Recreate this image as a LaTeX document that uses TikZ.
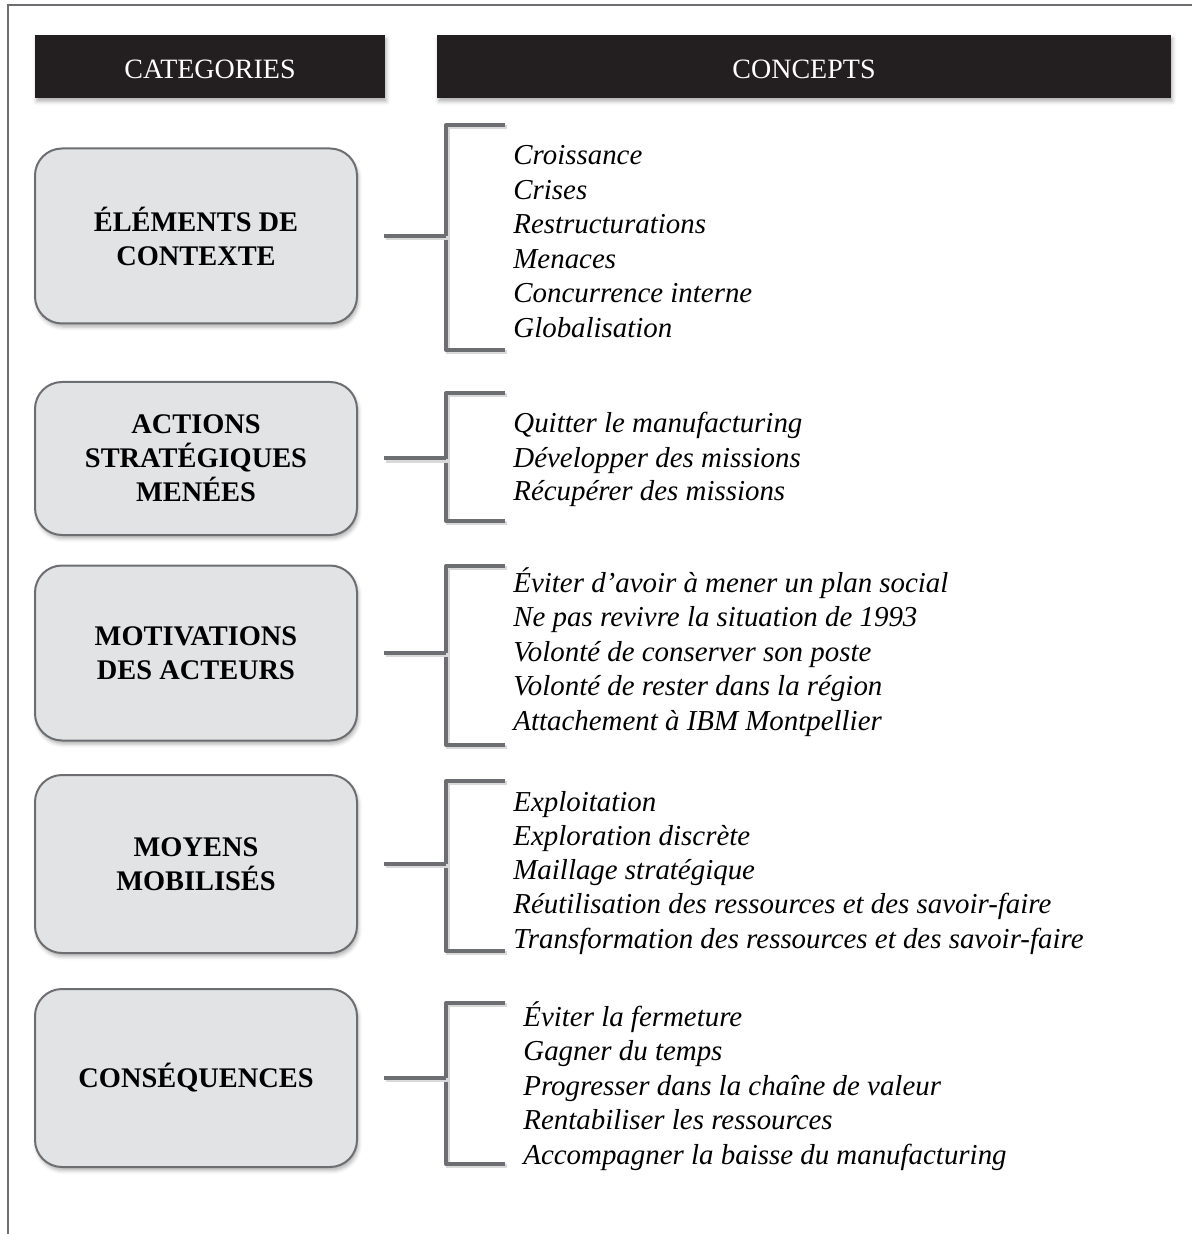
\documentclass[tikz,border=0pt]{standalone}
\usepackage{fontspec}
\setmainfont{Liberation Serif}
\usetikzlibrary{positioning,shadows.blur}

\definecolor{framegray}{HTML}{6D6E71}
\definecolor{boxfill}{HTML}{E2E3E5}
\definecolor{headblack}{HTML}{231F20}

\tikzset{
    header/.style={fill=headblack, text=white, inner sep=0pt, minimum height=31.5pt,
        text height=11.8pt, text depth=0pt, font=\fontsize{14}{17}\selectfont,
        blur shadow={shadow xshift=0.8pt, shadow yshift=-1.8pt, shadow opacity=30}},
    catbox/.style={draw=framegray, line width=1pt, fill=boxfill, rounded corners=13.5pt,
        inner sep=0pt, minimum width=161pt, align=center,
        font=\fontsize{14.2}{17}\selectfont\bfseries,
        blur shadow={shadow xshift=0.8pt, shadow yshift=-1.8pt, shadow opacity=30}},
    brace/.style={draw=framegray, line width=2pt, line join=round,
        preaction={draw=black!15, line width=2pt,
            transform canvas={shift={(0.8pt,-1.2pt)}}}},
    concept/.style={anchor=base west, inner sep=0pt,
        font=\fontsize{14.45}{17}\selectfont\itshape},
}

\begin{document}
\begin{tikzpicture}[x=0.5pt, y=-0.5pt]
    \useasboundingbox (0,0) rectangle (1192,1234);
    \draw[framegray, line width=1.2pt] (1192,5) -- (8,5) -- (8,1234);

    % headers
    \node[header, minimum width=175pt] (hcat) at (210,66.5) {CATEGORIES};
    \node[header, minimum width=367pt] (hcon) at (804,66.5) {CONCEPTS};

    % categories
    \node[catbox, minimum height=87.5pt] (ctx) at (196,236) {ÉLÉMENTS DE\\CONTEXTE};
    \node[catbox, minimum height=76.5pt] (act) at (196,458.5) {ACTIONS\\STRATÉGIQUES\\MENÉES};
    \node[catbox, minimum height=87.5pt] (mot) at (196,653) {MOTIVATIONS\\DES ACTEURS};
    \node[catbox, minimum height=89pt] (moy) at (196,864) {MOYENS\\MOBILISÉS};
    \node[catbox, minimum height=89pt] (csq) at (196,1078) {CONSÉQUENCES};

    % brackets
    \foreach \nm/\ya/\yb in {ctx/125/350, act/393/521, mot/566/745, moy/781/951, csq/1003/1164} {
        \coordinate (\nm-t) at (505,\ya);
        \coordinate (\nm-b) at (505,\yb);
        \coordinate (\nm-k) at (446,\ya);
        \draw[brace] (\nm-t) -- (\nm-k) -- (\nm-k |- \nm-b) -- (\nm-b);
        \draw[brace] ([xshift=13pt]\nm.east) -- (\nm.east -| \nm-k);
    }

    % concepts
    \foreach \txt [count=\i from 0] in {Croissance, Crises, Restructurations, Menaces,
            Concurrence interne, Globalisation}
        \node[concept] (ctx-\i) at (513,{165+34.5*\i}) {\txt};
    \foreach \txt [count=\i from 0] in {Quitter le manufacturing, Développer des missions,
            Récupérer des missions}
        \node[concept] (act-\i) at (513,{433+34*\i}) {\txt};
    \foreach \txt [count=\i from 0] in {Éviter d’avoir à mener un plan social,
            Ne pas revivre la situation de 1993, Volonté de conserver son poste,
            Volonté de rester dans la région, Attachement à IBM Montpellier}
        \node[concept] (mot-\i) at (513,{592+34.5*\i}) {\txt};
    \foreach \txt [count=\i from 0] in {Exploitation, Exploration discrète, Maillage stratégique,
            Réutilisation des ressources et des savoir-faire,
            Transformation des ressources et des savoir-faire}
        \node[concept] (moy-\i) at (513,{811+34.3*\i}) {\txt};
    \foreach \txt [count=\i from 0] in {Éviter la fermeture, Gagner du temps,
            Progresser dans la chaîne de valeur, Rentabiliser les ressources,
            Accompagner la baisse du manufacturing}
        \node[concept] (csq-\i) at (523,{1026+34.5*\i}) {\txt};
\end{tikzpicture}
\end{document}
